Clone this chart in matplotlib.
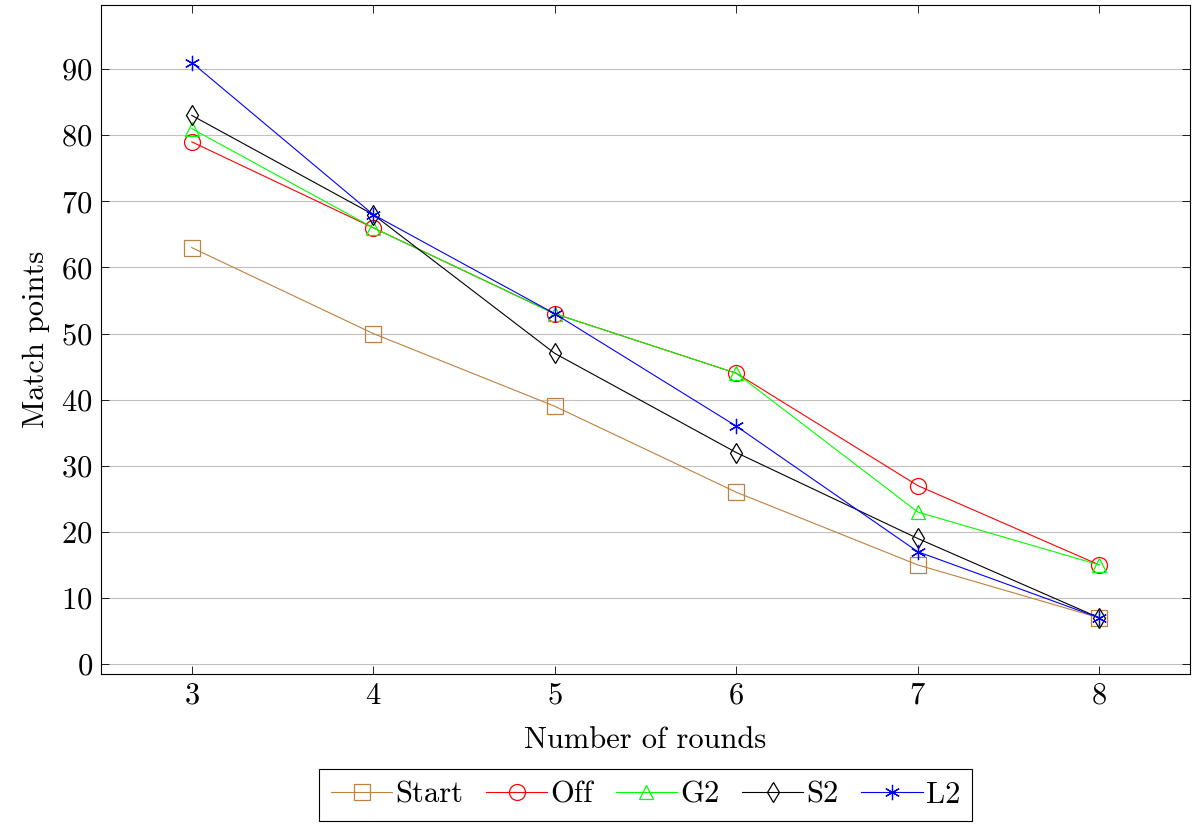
import matplotlib
matplotlib.use("Agg")
import matplotlib.pyplot as plt

plt.rcParams['font.family'] = 'serif'
plt.rcParams['font.serif'] = ['cmr10']
plt.rcParams['mathtext.fontset'] = 'cm'
plt.rcParams['axes.formatter.use_mathtext'] = True

rounds = [3, 4, 5, 6, 7, 8]
start = [63, 50, 39, 26, 15, 7]
off = [79, 66, 53, 44, 27, 15]
g2 = [81, 66, 53, 44, 23, 15]
s2 = [83, 68, 47, 32, 19, 7]
l2 = [91, 68, 53, 36, 17, 7]
yticks = [0, 10, 20, 30, 40, 50, 60, 70, 80, 90]

fig = plt.figure(figsize=(11.92, 8.24), dpi=100)
ax = fig.add_axes([101/1192, 150/824, 1089/1192, 669/824])

lw = 0.8
kw = dict(linewidth=lw, markerfacecolor='none', markeredgewidth=0.9)
ax.plot(rounds, start, color='#BF8040', marker='s', markersize=11, label='Start', **kw)
ax.plot(rounds, off, color='#FF0000', marker='o', markersize=11.5, label='Off', **kw)
ax.plot(rounds, g2, color='#00FF00', marker='^', markersize=9.5, label='G2', **kw)
ax.plot(rounds, s2, color='black', marker='d', markersize=10, label='S2', **kw)
ax.plot(rounds, l2, color='#0000FF', marker=(6, 2, 0), markersize=11, label='L2', **kw)

ax.set_xlim(2.5, 8.5)
ax.set_ylim(-1.5, 99.7)
ax.set_xticks(rounds)
ax.set_yticks(yticks)
ax.grid(axis='y', color='#c0c0c0', linewidth=0.8)
ax.set_axisbelow(True)
ax.tick_params(direction='in', length=6, width=0.6, top=True, right=True, labelsize=22, pad=6)
for s in ax.spines.values():
    s.set_linewidth(0.8)

ax.set_xlabel('Number of rounds', fontsize=22, labelpad=12)
ax.set_ylabel('Match points', fontsize=22, labelpad=8)

leg = ax.legend(loc='upper center', bbox_to_anchor=(0.5, -0.142), ncol=5, fontsize=22,
                frameon=True, fancybox=False, edgecolor='black', handlelength=2.0,
                handletextpad=0.1, columnspacing=0.75, borderpad=0.4, borderaxespad=0,
                framealpha=1)
leg.get_frame().set_linewidth(0.8)

fig.savefig('out.png', dpi=100)
